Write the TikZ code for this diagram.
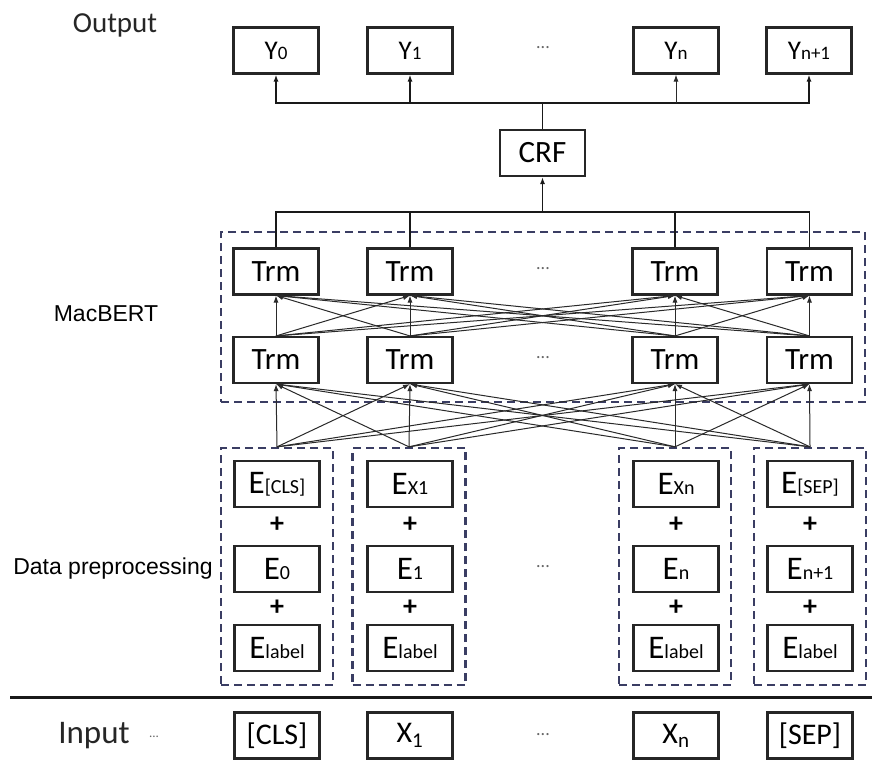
\documentclass[tikz,border=0pt]{standalone}
\usepackage{fontspec}
\setmainfont{Carlito}
\newfontfamily\helv{Liberation Sans}
\usetikzlibrary{arrows.meta}
\definecolor{dashblue}{HTML}{3A3D63}
\definecolor{linegray}{HTML}{2A2A2A}
\definecolor{dotgray}{HTML}{666666}
\newcommand\ylab[2]{{\fontsize{27}{27}\selectfont #1}{\fontsize{19}{19}\selectfont #2}}
\newcommand\elab[1]{{\fontsize{33}{33}\selectfont E}{\fontsize{20}{20}\selectfont #1}}
\begin{document}
\begin{tikzpicture}[x=1pt,y=-1pt,
  blk/.style={draw=black!85, line width=2.1pt, minimum width=85pt, minimum height=46pt, inner sep=0pt, anchor=center, fill=white},
  trmtxt/.style={font=\fontsize{31}{31}\selectfont},
  inptxt/.style={font=\fontsize{30}{30}\selectfont},
  grp/.style={draw=dashblue, line width=2.3pt, dash pattern=on 8pt off 5pt, inner sep=0pt, anchor=center},
  conn/.style={draw=black!90, line width=1.8pt},
  thin/.style={draw=linegray, line width=1pt},
  tip/.style={-{Latex[length=7pt,width=5pt]}},
  dots/.style={text=dotgray, font=\fontsize{18}{18}\selectfont},
  plus/.style={font=\bfseries\fontsize{28}{28}\selectfont},
  side/.style={font=\helv\fontsize{23}{23}\selectfont, anchor=center}
]
\useasboundingbox (0,0) rectangle (882,760);
\fill[white] (0,0) rectangle (882,760);

% labels
\node[font=\fontsize{29}{29}\selectfont, text=black!85] (outlab) at (115,25) {Output};
\node[side] (mac) at (106,314) {MacBERT};
\node[side] (dp) at (113,569) {Data preprocessing};
\node[font=\fontsize{33}{33}\selectfont, text=black!85] (inlab) at (94,736) {Input};
\node[dots, font=\fontsize{13}{13}\selectfont] (indots) at (154,737) {...};

% output row
\node[blk] (y0) at (276,50.5) {\ylab{Y}{0}};
\node[blk] (y1) at (410,50.5) {\ylab{Y}{1}};
\node[dots] (ydots) at (543,48) {...};
\node[blk] (yn) at (676,50.5) {\ylab{Y}{n}};
\node[blk] (yn1) at (809,50.5) {\ylab{Y}{n+1}};

% CRF
\node[blk, trmtxt] (crf) at (542.5,153) {CRF};

% MacBERT group
\node[grp, minimum width=644pt, minimum height=170pt] (mb) at (543,317) {};
\node[blk, trmtxt] (t1) at (276,271.5) {Trm};
\node[blk, trmtxt] (t2) at (410,271.5) {Trm};
\node[dots] (tdots) at (543,269) {...};
\node[blk, trmtxt] (t3) at (675,271.5) {Trm};
\node[blk, trmtxt] (t4) at (809.5,271.5) {Trm};
\node[blk, trmtxt] (b1) at (276,360) {Trm};
\node[blk, trmtxt] (b2) at (410,360) {Trm};
\node[dots] (bdots) at (543,358) {...};
\node[blk, trmtxt] (b3) at (675,360) {Trm};
\node[blk, trmtxt] (b4) at (809.5,360) {Trm};

% embedding groups
\node[grp, minimum width=112pt, minimum height=237pt] (g1) at (277,566.5) {};
\node[grp, minimum width=113pt, minimum height=237pt] (g2) at (409,566.5) {};
\node[grp, minimum width=112pt, minimum height=237pt] (g3) at (675,566.5) {};
\node[grp, minimum width=112pt, minimum height=237pt] (g4) at (810,566.5) {};

\node[blk] (e11) at (277,484) {\elab{[CLS]}};
\node[plus] (p11) at (277,525) {+};
\node[blk] (e12) at (277,569) {\elab{0}};
\node[plus] (p12) at (277,608) {+};
\node[blk] (e13) at (277,648) {\elab{label}};

\node[blk] (e21) at (410,484) {\elab{X1}};
\node[plus] (p21) at (410,525) {+};
\node[blk] (e22) at (410,569) {\elab{1}};
\node[plus] (p22) at (410,608) {+};
\node[blk] (e23) at (410,648) {\elab{label}};

\node[dots] (edots) at (543,567) {...};

\node[blk] (e31) at (676,484) {\elab{Xn}};
\node[plus] (p31) at (676,525) {+};
\node[blk] (e32) at (676,569) {\elab{n}};
\node[plus] (p32) at (676,608) {+};
\node[blk] (e33) at (676,648) {\elab{label}};

\node[blk] (e41) at (810,484) {\elab{[SEP]}};
\node[plus] (p41) at (810,525) {+};
\node[blk] (e42) at (810,569) {\elab{n+1}};
\node[plus] (p42) at (810,608) {+};
\node[blk] (e43) at (810,648) {\elab{label}};

% input separator and row
\coordinate (sepL) at (10,697);
\coordinate (sepR) at (872,697);
\draw[line width=3pt, black!90] (sepL) -- (sepR);
\node[blk, inptxt] (i1) at (277,735.5) {[CLS]};
\node[blk, inptxt] (i2) at (410,735.5) {X\textsubscript{1}};
\node[dots] (idots) at (543,735) {...};
\node[blk, inptxt] (i3) at (676,735.5) {X\textsubscript{n}};
\node[blk, inptxt] (i4) at (810,735.5) {[SEP]};

% embeddings -> bottom Trm
\foreach \s in {g1,g2,g3,g4}{
  \foreach \d in {b1,b2,b3,b4}{
    \draw[thin, tip] (\s.north) -- (\d.south);
  }
}
% bottom Trm -> top Trm
\foreach \s in {b1,b2,b3,b4}{
  \foreach \d in {t1,t2,t3,t4}{
    \draw[thin, tip] (\s.north) -- (\d.south);
  }
}

% top Trm -> CRF
\coordinate (tbar) at (542.5,212);
\draw[conn] (t1.north) |- (tbar) -| (t4.north);
\draw[conn] (t2.north) -- (t2.north |- tbar);
\draw[conn] (t3.north) -- (t3.north |- tbar);
\draw[conn, tip] (tbar) -- (crf.south);

% CRF -> outputs
\coordinate (ybar) at (542.5,103);
\draw[conn] (crf.north) -- (ybar);
\draw[conn, tip] (ybar) -| (y0.south);
\draw[conn, tip] (ybar) -| (yn1.south);
\draw[conn, tip] (y1.south |- ybar) -- (y1.south);
\draw[thin, tip] (yn.south |- ybar) -- (yn.south);
\end{tikzpicture}
\end{document}
